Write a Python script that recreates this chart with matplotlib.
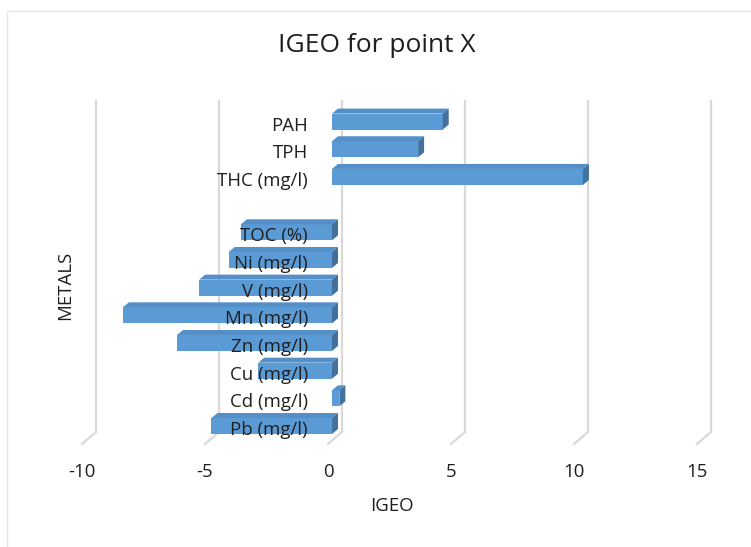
import numpy as np
import matplotlib
matplotlib.use("Agg")
import matplotlib.pyplot as plt
from matplotlib.patches import Polygon, Rectangle

# ── data ──────────────────────────────────────────────────────────────────────
categories = ["Pb (mg/l)", "Cd (mg/l)", "Cu (mg/l)", "Zn (mg/l)", "Mn (mg/l)",
              "V (mg/l)", "Ni (mg/l)", "TOC (%)", "", "THC (mg/l)", "TPH", "PAH"]
igeo = [-4.9, 0.3, -3.0, -6.3, -8.5, -5.4, -4.2, -3.7, np.nan, 10.2, 3.5, 4.5]
x_ticks = [-10, -5, 0, 5, 10, 15]

# ── style ─────────────────────────────────────────────────────────────────────
FRONT = "#5B9BD5"
TOP   = "#548FC8"
SIDE  = "#41719C"
GRID  = "#D9D9D9"
TEXT  = "#1F1F1F"
plt.rcParams["font.family"] = ["Open Sans", "DejaVu Sans"]

W, H = 751, 547
# plot floor (front edge) in pixels
X0_PX, X1_PX = 82, 697
YB_PX, YT_PX = 444, 100
XLIM = (-10, 15)
YLIM = (-0.65, 11.78)
SX = (X1_PX - X0_PX) / (XLIM[1] - XLIM[0])
SY = (YB_PX - YT_PX) / (YLIM[1] - YLIM[0])


def px(dx, dy):
    """pixel offset -> data offset"""
    return dx / SX, dy / SY


fig = plt.figure(figsize=(W / 100, H / 100), dpi=100)
ax = fig.add_axes([X0_PX / W, 1 - YB_PX / H, (X1_PX - X0_PX) / W, (YB_PX - YT_PX) / H])
ax.set_xlim(*XLIM)
ax.set_ylim(*YLIM)
ax.axis("off")

# chart border
fig.patches.append(Rectangle((7 / W, -0.1), 1.2, 1.1 - 11 / H, transform=fig.transFigure,
                             fill=False, edgecolor="#E6E6E6", lw=1.0))

# ── back wall gridlines + floor ───────────────────────────────────────────────
wx, wy = px(14, 12)
for t in x_ticks:
    ax.plot([t + wx, t + wx], [YLIM[0] + wy, YLIM[1]], color=GRID, lw=1.6,
            clip_on=False, zorder=1, solid_capstyle="butt")
    ax.plot([t, t + wx], [YLIM[0], YLIM[0] + wy], color=GRID, lw=1.6,
            clip_on=False, zorder=1)
    ax.annotate(str(t), (t, YLIM[0]), xytext=(0, -28), textcoords="offset pixels",
                ha="center", va="center", fontsize=13.4, color=TEXT)

# ── 3-D bars ──────────────────────────────────────────────────────────────────
bx, _ = px(4, 0)
bh = 16 / SY
dx, dy = px(6, 5)
ypos = np.arange(len(categories))
vals = np.array(igeo, dtype=float)
ok = ~np.isnan(vals)
ax.barh(ypos[ok], vals[ok], left=bx, height=bh, color=FRONT, zorder=3,
        clip_on=False)
for y, v in zip(ypos[ok], vals[ok]):
    x0, x1 = min(bx, bx + v), max(bx, bx + v)
    yb, yt = y - bh / 2, y + bh / 2
    ax.add_patch(Polygon([(x0, yt), (x1, yt), (x1 + dx, yt + dy), (x0 + dx, yt + dy)],
                         closed=True, facecolor=TOP, edgecolor="none", zorder=3,
                         clip_on=False))
    ax.add_patch(Polygon([(x1, yb), (x1, yt), (x1 + dx, yt + dy), (x1 + dx, yb + dy)],
                         closed=True, facecolor=SIDE, edgecolor="none", zorder=3,
                         clip_on=False))

# category labels sit beside the zero line, on top of the bars
for y, name in zip(ypos, categories):
    ax.annotate(name, (0, y), xytext=(-20, -4), textcoords="offset pixels",
                ha="right", va="center", fontsize=13.4, color=TEXT, zorder=5)

# ── titles ────────────────────────────────────────────────────────────────────
fig.text(377 / W, 1 - 46 / H, "IGEO for point X", ha="center", va="center",
         fontsize=19, color=TEXT)
fig.text(392 / W, 1 - 506 / H, "IGEO", ha="center", va="center",
         fontsize=13.4, color=TEXT)
fig.text(65 / W, 1 - 285 / H, "METALS", ha="center", va="center", rotation=90,
         fontsize=13.4, color=TEXT)

fig.savefig("out.png", dpi=100, facecolor="white")
